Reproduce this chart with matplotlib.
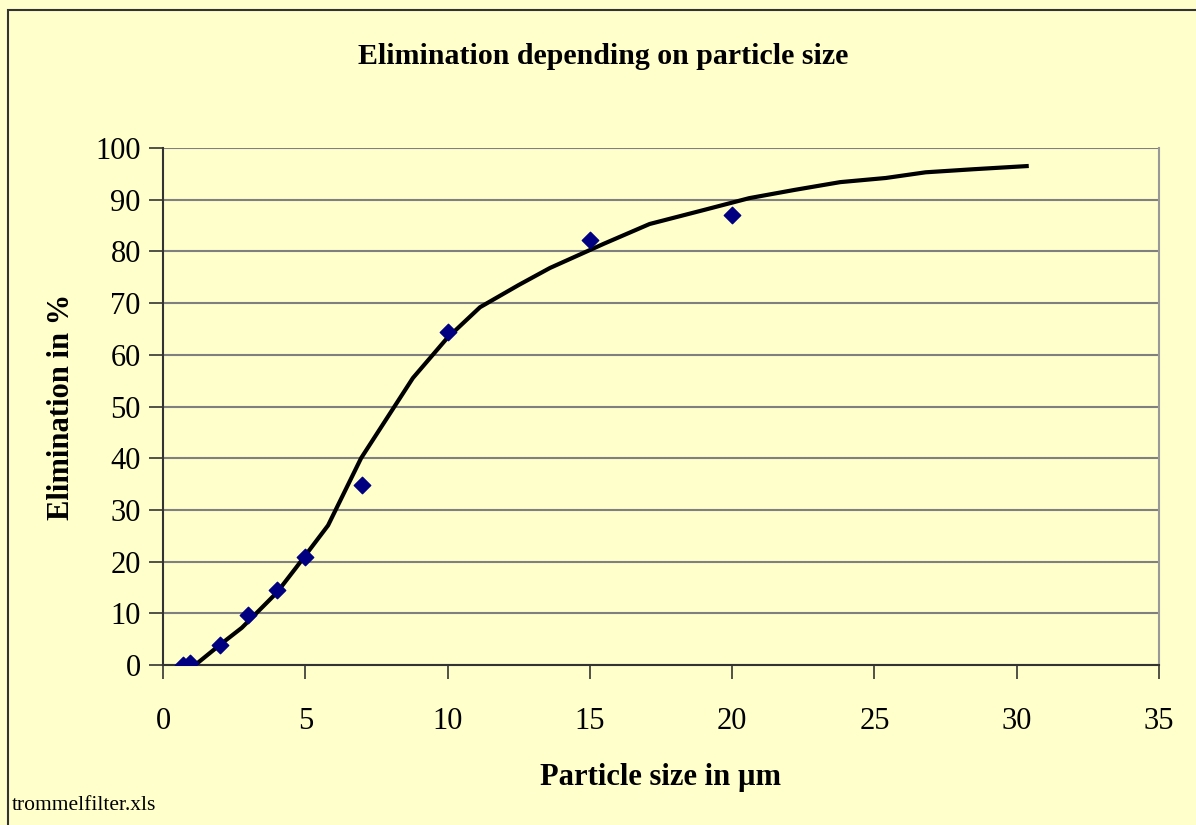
import matplotlib.pyplot as plt
from matplotlib.patches import Rectangle

# Messwerte (Punkte)
size_pts = [0.7, 0.95, 2, 3, 4, 5, 7, 10, 15, 20]
elim_pts = [0.0, 0.3, 3.9, 9.7, 14.6, 20.8, 34.8, 64.5, 82.3, 87.0]

# Ausgleichskurve
size_fit = [0.95, 2.0, 2.77, 4.0, 4.7, 5.8, 6.96, 8.78, 9.98, 11.14, 12.5, 13.6,
            15.5, 17.1, 19.0, 20.6, 22.2, 23.8, 25.4, 26.8, 28.5, 30.35]
elim_fit = [-0.8, 3.9, 7.2, 14.0, 19.0, 27.0, 40.0, 55.5, 63.2, 69.2, 73.5, 76.8,
            81.5, 85.3, 88.0, 90.3, 91.9, 93.4, 94.2, 95.3, 95.9, 96.5]

bg = "#FFFFCC"
plt.rcParams["font.family"] = ["Liberation Serif", "DejaVu Serif"]

fig = plt.figure(figsize=(11.96, 8.25), dpi=100, facecolor=bg)
W, H = 1196, 825
fig.patches.append(Rectangle((8 / W, -0.2), 1.2, 1.2 - 10 / H, transform=fig.transFigure,
                             fill=False, edgecolor="#333333", linewidth=1.5))

ax = fig.add_axes([163 / W, 1 - 665 / H, (1159 - 163) / W, (665 - 148) / H])
ax.set_facecolor(bg)

ax.plot(size_fit, elim_fit, color="black", linewidth=3, zorder=3)
ax.scatter(size_pts, elim_pts, marker="D", s=70, color="#000080", zorder=4)

ax.set_xlim(0, 35)
ax.set_ylim(0, 100)
ax.set_xticks(range(0, 36, 5))
ax.set_yticks(range(0, 101, 10))
ax.yaxis.grid(True, color="#808080", linewidth=1.5)
ax.set_axisbelow(True)

for s in ["left", "bottom"]:
    ax.spines[s].set_color("#333333")
    ax.spines[s].set_linewidth(1.5)
ax.spines["right"].set_color("#999999")
ax.spines["right"].set_linewidth(1.5)
ax.spines["top"].set_visible(False)

ax.tick_params(axis="both", direction="out", length=10, width=1.2, color="#333333",
               labelsize=22, pad=6)
ax.tick_params(axis="x", pad=20)
for lab in ax.get_xticklabels() + ax.get_yticklabels():
    lab.set_clip_on(False)

ax.set_xlabel("Particle size in µm", fontsize=22, fontweight="bold", labelpad=20)
ax.set_ylabel("Elimination in %", fontsize=22, fontweight="bold", labelpad=14)
fig.text(603 / W, 1 - 56 / H, "Elimination depending on particle size",
         ha="center", va="center", fontsize=21.5, fontweight="bold")
fig.text(12 / W, 1 - 806 / H, "trommelfilter.xls", ha="left", va="center", fontsize=15.5)

plt.savefig("out.png", dpi=100, facecolor=bg)
plt.close()
